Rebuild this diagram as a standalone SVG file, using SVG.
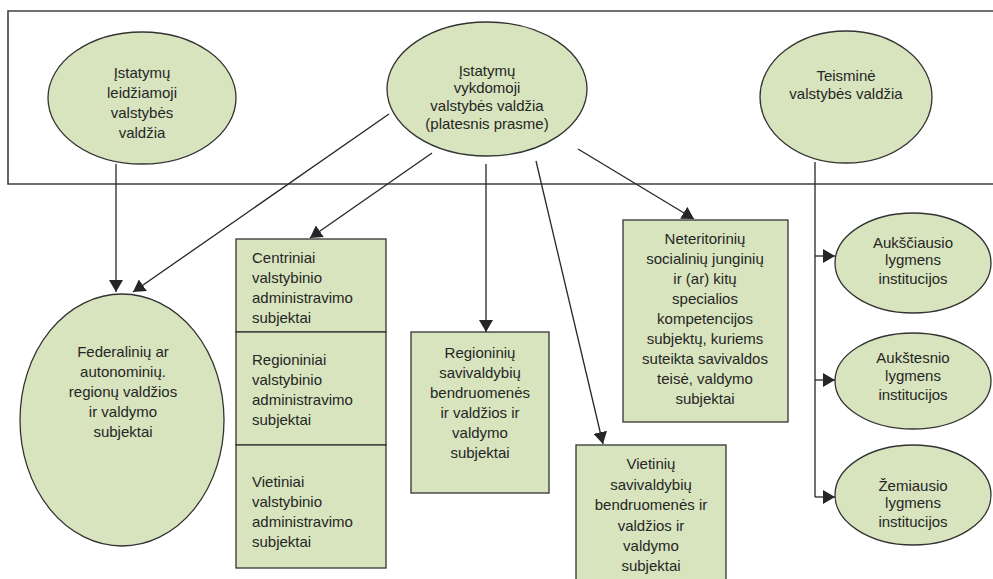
<svg xmlns="http://www.w3.org/2000/svg" width="993" height="579" viewBox="0 0 993 579">
<style>
.sh{fill:#d7e4bd;stroke:#333;stroke-width:1.3}
.t{font-family:"Liberation Sans",Arial,sans-serif;font-size:15px;fill:#262626;text-anchor:middle}
.l{text-anchor:start}
.c{stroke:#262626;stroke-width:1.3;fill:none}
.fr{stroke:#404040;stroke-width:1.6;fill:none}
</style>
<defs>
<marker id="ah" viewBox="0 0 12 14" refX="12" refY="7" markerWidth="12" markerHeight="14" markerUnits="userSpaceOnUse" orient="auto">
<path d="M0,0 L12,7 L0,14 z" fill="#262626"/>
</marker>
</defs>
<rect width="993" height="579" fill="#fff"/>
<path class="fr" d="M993,11 H8 V184 H993"/>

<g id="n-leidz">
<ellipse class="sh" cx="142" cy="98" rx="94" ry="66"/>
<text class="t" x="142" y="78">Įstatymų</text>
<text class="t" x="142" y="98">leidžiamoji</text>
<text class="t" x="142" y="118">valstybės</text>
<text class="t" x="142" y="138">valdžia</text>
</g>
<g id="n-vykd">
<ellipse class="sh" cx="487" cy="89" rx="100" ry="67"/>
<text class="t" x="487" y="76">Įstatymų</text>
<text class="t" x="487" y="93">vykdomoji</text>
<text class="t" x="487" y="111">valstybės valdžia</text>
<text class="t" x="487" y="129">(platesnis prasme)</text>
</g>
<g id="n-teism">
<ellipse class="sh" cx="846" cy="97" rx="86" ry="66"/>
<text class="t" x="846" y="81">Teisminė</text>
<text class="t" x="846" y="99">valstybės valdžia</text>
</g>
<g id="n-feder">
<ellipse class="sh" cx="122" cy="420" rx="102" ry="126"/>
<text class="t" x="123" y="357">Federalinių ar</text>
<text class="t" x="123" y="377">autonominių.</text>
<text class="t" x="123" y="397">regionų valdžios</text>
<text class="t" x="123" y="417">ir valdymo</text>
<text class="t" x="123" y="437">subjektai</text>
</g>
<g id="n-centr">
<rect class="sh" x="236" y="239" width="150" height="93"/>
<text class="t l" x="252" y="263">Centriniai</text>
<text class="t l" x="252" y="283">valstybinio</text>
<text class="t l" x="252" y="303">administravimo</text>
<text class="t l" x="252" y="323">subjektai</text>
</g>
<g id="n-regad">
<rect class="sh" x="236" y="332" width="150" height="113"/>
<text class="t l" x="252" y="365">Regioniniai</text>
<text class="t l" x="252" y="385">valstybinio</text>
<text class="t l" x="252" y="405">administravimo</text>
<text class="t l" x="252" y="425">subjektai</text>
</g>
<g id="n-vietad">
<rect class="sh" x="236" y="445" width="150" height="123"/>
<text class="t l" x="252" y="487">Vietiniai</text>
<text class="t l" x="252" y="507">valstybinio</text>
<text class="t l" x="252" y="527">administravimo</text>
<text class="t l" x="252" y="547">subjektai</text>
</g>
<g id="n-regsav">
<rect class="sh" x="411" y="332" width="138" height="161"/>
<text class="t" x="480" y="358">Regioninių</text>
<text class="t" x="480" y="378">savivaldybių</text>
<text class="t" x="480" y="398">bendruomenės</text>
<text class="t" x="480" y="418">ir valdžios ir</text>
<text class="t" x="480" y="438">valdymo</text>
<text class="t" x="480" y="458">subjektai</text>
</g>
<g id="n-vietsav">
<rect class="sh" x="576" y="445" width="150" height="140"/>
<text class="t" x="651" y="469">Vietinių</text>
<text class="t" x="651" y="490">savivaldybių</text>
<text class="t" x="651" y="510">bendruomenės ir</text>
<text class="t" x="651" y="531">valdžios ir</text>
<text class="t" x="651" y="551">valdymo</text>
<text class="t" x="651" y="571">subjektai</text>
</g>
<g id="n-neter">
<rect class="sh" x="623" y="220" width="165" height="202"/>
<text class="t" x="705" y="244">Neteritorinių</text>
<text class="t" x="705" y="264">socialinių junginių</text>
<text class="t" x="705" y="284">ir (ar) kitų</text>
<text class="t" x="705" y="304">specialios</text>
<text class="t" x="705" y="324">kompetencijos</text>
<text class="t" x="705" y="344">subjektų, kuriems</text>
<text class="t" x="705" y="364">suteikta savivaldos</text>
<text class="t" x="705" y="384">teisė, valdymo</text>
<text class="t" x="705" y="404">subjektai</text>
</g>
<g id="n-auksc">
<ellipse class="sh" cx="913" cy="263" rx="78" ry="50"/>
<text class="t" x="913" y="248">Aukščiausio</text>
<text class="t" x="913" y="265">lygmens</text>
<text class="t" x="913" y="284">institucijos</text>
</g>
<g id="n-aukst">
<ellipse class="sh" cx="913" cy="381" rx="78" ry="48"/>
<text class="t" x="913" y="363">Aukštesnio</text>
<text class="t" x="913" y="381">lygmens</text>
<text class="t" x="913" y="400">institucijos</text>
</g>
<g id="n-zem">
<ellipse class="sh" cx="913" cy="495" rx="78" ry="50"/>
<text class="t" x="913" y="491">Žemiausio</text>
<text class="t" x="913" y="508">lygmens</text>
<text class="t" x="913" y="527">institucijos</text>
</g>

<g id="connectors">
<line class="c" x1="116" y1="164" x2="116" y2="292" marker-end="url(#ah)"/>
<line class="c" x1="389" y1="114" x2="133" y2="292" marker-end="url(#ah)"/>
<line class="c" x1="432" y1="153" x2="310" y2="238" marker-end="url(#ah)"/>
<line class="c" x1="486" y1="164" x2="486" y2="332" marker-end="url(#ah)"/>
<line class="c" x1="536" y1="161" x2="603" y2="444" marker-end="url(#ah)"/>
<line class="c" x1="578" y1="149" x2="694" y2="219" marker-end="url(#ah)"/>
<path class="c" d="M815,162 V497"/>
<line class="c" x1="815" y1="256" x2="835" y2="256" marker-end="url(#ah)"/>
<line class="c" x1="815" y1="380" x2="835" y2="380" marker-end="url(#ah)"/>
<line class="c" x1="815" y1="497" x2="835" y2="497" marker-end="url(#ah)"/>
</g>
</svg>
